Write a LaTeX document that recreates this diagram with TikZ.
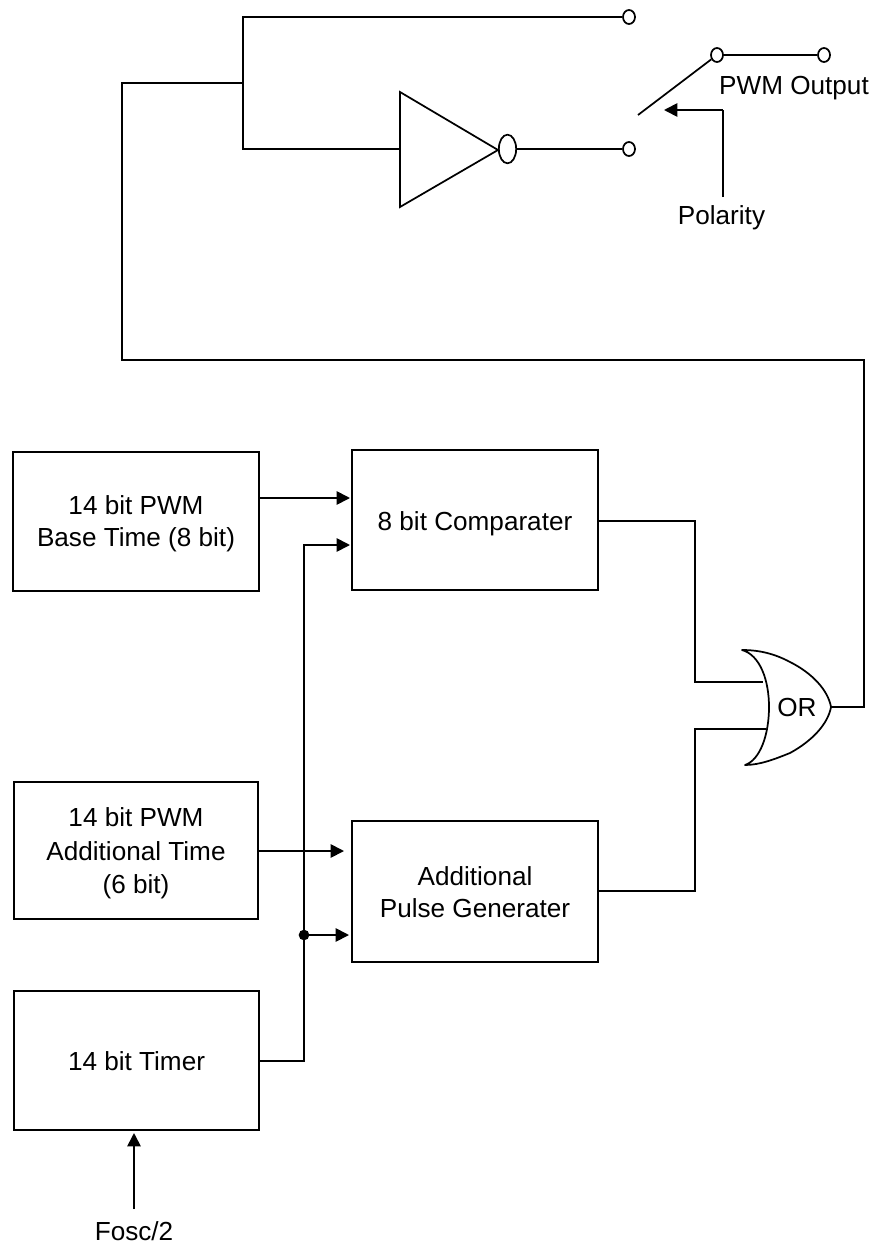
\documentclass[tikz,border=0pt]{standalone}
\usepackage{fontspec}
\setmainfont{Liberation Sans}
\usetikzlibrary{arrows.meta,shapes.geometric}
\tikzset{
  x=0.75pt,y=-0.75pt,
  wire/.style={draw=black,line width=1.3pt},
  arr/.style={wire,-{Triangle[length=10pt,width=10pt]}},
  blockbox/.style={draw=black,line width=1.3pt,anchor=north west,inner sep=0pt,outer sep=0pt,align=center,font=\fontsize{19.6pt}{24pt}\selectfont},
  label/.style={inner sep=0pt,anchor=base,font=\fontsize{19.6pt}{23.6pt}\selectfont},
  term/.style={draw=black,fill=white,line width=1.3pt,ellipse,inner sep=0pt,minimum width=9pt,minimum height=10.5pt},
  junc/.style={circle,fill=black,inner sep=0pt,outer sep=0pt,minimum size=8pt},
}
\begin{document}
\begin{tikzpicture}
\useasboundingbox (0,0) rectangle (874,1245);
% boxes
\node[blockbox,minimum width=184.5pt,minimum height=104.25pt] (base) at (13,452) {\rule{0pt}{18pt}14 bit PWM\\Base Time (8 bit)};
\node[blockbox,minimum width=184.5pt,minimum height=105pt] (cmp) at (352,450) {\rule{0pt}{20pt}8 bit Comparater};
\node[blockbox,minimum width=183pt,minimum height=102.75pt,font=\fontsize{19.6pt}{25pt}\selectfont] (addt) at (14,782) {\rule{0pt}{18.5pt}14 bit PWM\\Additional Time\\(6 bit)};
\node[blockbox,minimum width=184.5pt,minimum height=105.75pt] (pulse) at (352,821) {\rule{0pt}{15.5pt}Additional\\Pulse Generater};
\node[blockbox,minimum width=183.75pt,minimum height=104.25pt] (timer) at (14,991) {\rule{0pt}{15.5pt}14 bit Timer};
% terminals
\coordinate (t1a) at (243,17);
\coordinate (fork) at (243,83);
\coordinate (t2a) at (243,149);
\node[term] (t1) at (629,17) {};
\node[term] (t2) at (629,149) {};
\node[term] (t3) at (717,55) {};
\node[term] (t4) at (824,55) {};
% inverter
\coordinate (invA) at (400,92);
\coordinate (invB) at (400,207);
\coordinate (invC) at (498,150);
\coordinate (invIn) at (400,149);
\draw[wire,line join=miter] (invA) -- (invC) -- (invB) -- cycle;
\node[draw=black,line width=1.3pt,ellipse,inner sep=0pt,outer sep=0pt,minimum width=13pt,minimum height=21.5pt] (bub) at (507.5,149) {};
\draw[wire] (bub.east) -- (t2);
\draw[wire] (t1) -- (t1a) -- (t2a) -- (invIn);
% feedback
\coordinate (fbA) at (122,83);
\coordinate (fbB) at (122,360);
\coordinate (fbC) at (864,360);
\coordinate (orOut) at (831,707);
\coordinate (fbD) at (864,707);
\draw[wire] (fork) -- (fbA) -- (fbB) -- (fbC) -- (fbD) -- (orOut);
% switch
\coordinate (swFree) at (638,115);
\draw[wire] (swFree) -- (t3);
\draw[wire] (t3) -- (t4);
\node[label] (pwm) at (794,95) {PWM Output};
\node[label] (pol) at (721.5,224) {Polarity};
\coordinate (polTop) at (723,197);
\coordinate (polCorner) at (723,110);
\coordinate (polTip) at (664,110);
\draw[wire] (polTop) -- (polCorner);
\draw[arr] (polCorner) -- (polTip);
% OR gate
\coordinate (orA) at (742,650);
\coordinate (orB) at (745,765);
\draw[wire,line join=round] (orA) .. controls (760,650) and (775,654) .. (790,662)
   .. controls (812,673) and (828,690) .. (orOut)
   .. controls (828,724) and (812,741) .. (790,753)
   .. controls (775,759) and (760,765) .. (orB)
   .. controls (760,760) and (769,735) .. (769,707)
   .. controls (769,680) and (760,655) .. (orA) -- cycle;
\node[label] (ortxt) at (797,716) {OR};
\coordinate (i1) at (763,682);
\coordinate (i2) at (766,729);
\coordinate (c1a) at (695,521);
\coordinate (c1b) at (695,682);
\coordinate (c2a) at (695,891);
\coordinate (c2b) at (695,729);
\draw[wire] (cmp.east |- c1a) -- (c1a) -- (c1b) -- (i1);
\draw[wire] (pulse.east |- c2a) -- (c2a) -- (c2b) -- (i2);
% inputs
\coordinate (a1s) at (259,498);
\coordinate (a1e) at (350,498);
\draw[arr] (a1s) -- (a1e);
\coordinate (a3s) at (258,851);
\coordinate (a3e) at (344,851);
\draw[arr] (a3s) -- (a3e);
\coordinate (bus0) at (259,1061);
\coordinate (bus1) at (304,1061);
\coordinate (bus2) at (304,545);
\coordinate (a2e) at (350,545);
\draw[wire,-{Triangle[length=10pt,width=10pt]}] (bus0) -- (bus1) -- (bus2) -- (a2e);
\node[junc] (dot) at (304,935) {};
\coordinate (a4e) at (349,935);
\draw[arr] (dot) -- (a4e);
% clock
\node[label] (fosc) at (134,1240) {Fosc/2};
\coordinate (fs) at (134,1209);
\coordinate (ft) at (134,1133);
\draw[arr] (fs) -- (ft);
\end{tikzpicture}
\end{document}
